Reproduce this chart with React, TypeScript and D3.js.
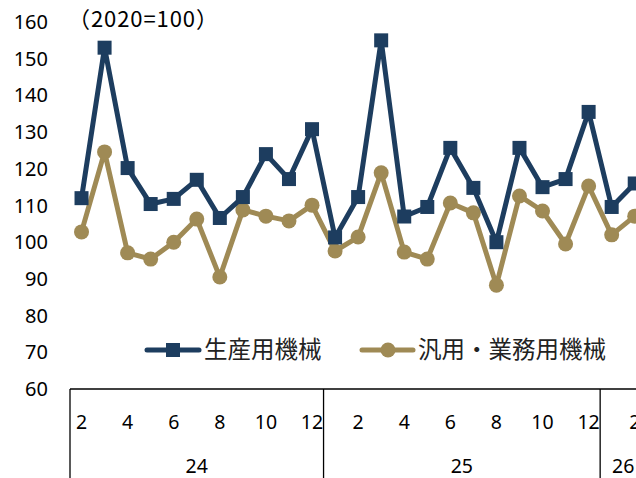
import React from 'react';
import * as d3 from 'd3';

const years = ['24', '25', '26'];
const months24 = [2, 3, 4, 5, 6, 7, 8, 9, 10, 11, 12];
const months25 = [1, 2, 3, 4, 5, 6, 7, 8, 9, 10, 11, 12];
const months26 = [1, 2];

const production = [
  112, 153, 120.2, 110.4, 111.8, 117, 106.6, 112.3, 124, 117.2, 130.8,
  101.3, 112.3, 155, 107, 109.6, 125.7, 114.8, 100, 125.7, 115, 117.2, 135.5,
  109.6, 116,
];
const general = [
  102.8, 124.6, 97.1, 95.4, 100, 106.3, 90.5, 108.8, 107.1, 105.8, 110.1,
  97.6, 101.4, 118.9, 97.3, 95.4, 110.7, 108, 88.3, 112.6, 108.5, 99.5, 115.3,
  102, 107.1,
];
const yTicks = [60, 70, 80, 90, 100, 110, 120, 130, 140, 150, 160];

const BLUE = '#1d3d5f';
const GOLD = '#9f8a55';
const FONT = '"Noto Sans", "Noto Sans CJK JP", sans-serif';
const JP = '"Noto Sans CJK JP", sans-serif';

const groups = [months24, months25, months26].map((ms, i) => ({ year: years[i], months: ms }));
const cats = groups.flatMap(g => g.months.map(m => ({ key: `${g.year}-${m}`, year: g.year, month: m })));

const App: React.FC = () => {
  const width = 636;
  const height = 478;
  const band = 23.05;
  const x0 = 70;
  const axisY = 389;

  const x = d3.scaleBand<string>()
    .domain(cats.map(c => c.key))
    .range([x0, x0 + band * cats.length])
    .padding(0);
  const y = d3.scaleLinear().domain([60, 160]).range([axisY, 22]);
  const cx = (k: string) => x(k)! + x.bandwidth() / 2;

  const line = d3.line<number>()
    .x((_, i) => cx(cats[i].key))
    .y(d => y(d));

  const sq = 14;

  // group boundaries
  let idx = 0;
  const bounds = groups.map(g => {
    const start = x(cats[idx].key)!;
    idx += g.months.length;
    const end = start + x.bandwidth() * g.months.length;
    return { year: g.year, start, end };
  });

  return (
    <svg width={width} height={height} style={{ position: 'absolute', left: 0, top: 0, background: '#fff' }}>
      {/* y tick labels */}
      {yTicks.map(t => (
        <text key={t} x={48} y={y(t)} dy="0.35em" textAnchor="end" fontFamily={FONT} fontSize={20} fill="#000">
          {t}
        </text>
      ))}
      <text x={68} y={19} dy="0.35em" fontFamily={JP} fontSize={22} fill="#000" textLength={150} lengthAdjust="spacing">（2020=100）</text>

      {/* x axis */}
      <line x1={x0} x2={width} y1={axisY} y2={axisY} stroke="#000" strokeWidth={1.3} />
      {bounds.map(b => (
        <line key={b.year} x1={b.start} x2={b.start} y1={axisY} y2={height} stroke="#000" strokeWidth={1.3} />
      ))}
      {cats.filter(c => c.month % 2 === 0).map(c => (
        <text key={c.key} x={cx(c.key)} y={422} dy="0.35em" textAnchor="middle" fontFamily={FONT} fontSize={19.5} fill="#000">
          {c.month}
        </text>
      ))}
      {bounds.map(b => (
        <text key={b.year} x={(b.start + b.end) / 2} y={466} dy="0.35em" textAnchor="middle" fontFamily={FONT} fontSize={19.5} fill="#000">
          {b.year}
        </text>
      ))}

      {/* series */}
      <path d={line(general)!} fill="none" stroke={GOLD} strokeWidth={5} strokeLinejoin="round" />
      {general.map((v, i) => (
        <circle key={i} cx={cx(cats[i].key)} cy={y(v)} r={7.5} fill={GOLD} />
      ))}
      <path d={line(production)!} fill="none" stroke={BLUE} strokeWidth={5} strokeLinejoin="round" />
      {production.map((v, i) => (
        <rect key={i} x={cx(cats[i].key) - sq / 2} y={y(v) - sq / 2} width={sq} height={sq} fill={BLUE} />
      ))}

      {/* legend */}
      <g>
        <line x1={147} x2={199} y1={350} y2={350} stroke={BLUE} strokeWidth={5} strokeLinecap="round" />
        <rect x={173 - sq / 2} y={350 - sq / 2} width={sq} height={sq} fill={BLUE} />
        <text x={204} y={350} dy="0.35em" fontFamily={JP} fontSize={23.5} fill="#222">生産用機械</text>
        <line x1={362} x2={413} y1={350} y2={350} stroke={GOLD} strokeWidth={5} strokeLinecap="round" />
        <circle cx={388} cy={350} r={7.5} fill={GOLD} />
        <text x={418} y={350} dy="0.35em" fontFamily={JP} fontSize={23.5} fill="#222">汎用・業務用機械</text>
      </g>
    </svg>
  );
};

export default App;
